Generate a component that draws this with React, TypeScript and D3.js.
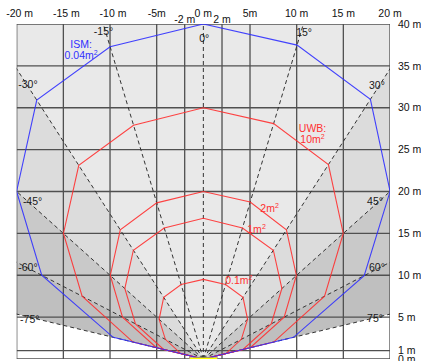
import React, { useEffect, useRef } from 'react';
import { select, scaleLinear, line } from 'd3';

// beam angles (deg from boresight) and detection range (m) per target
const angles = [-75, -60, -45, -30, -15, 0, 15, 30, 45, 60, 75];
const ismRange = [10, 20, 28.3, 35.7, 38.6, 40, 38.8, 35.8, 28.3, 19.9, 10];
const uwb10 = [7.8, 15, 21.2, 26.7, 28.9, 30, 29.1, 26.8, 21.2, 15, 7.8];
const uwb2 = [5.2, 10, 14.1, 17.8, 19.3, 20, 19.4, 17.8, 14.1, 10, 5.2];
const uwb1 = [4.4, 8.4, 11.9, 15, 16.2, 16.8, 16.2, 15, 11.9, 8.4, 4.4];
const uwb01 = [2.5, 4.7, 6.7, 8.5, 9.2, 9.5, 9.2, 8.5, 6.7, 4.7, 2.5];

const xGrid = [-20, -15, -10, -5, -2, 2, 5, 10, 15, 20];
const yGrid = [0, 1, 5, 10, 15, 20, 25, 30, 35, 40];
const topLabels = ['-20 m', '-15 m', '-10 m', '-5m', '-2 m', '0 m', '2 m', '5m', '10 m', '15 m', '20 m'];
const topValues = [-20, -15, -10, -5, -2, 0, 2, 5, 10, 15, 20];
const rightValues = [40, 35, 30, 25, 20, 15, 10, 5, 1, 0];

const dashAngles = [-75, -60, -45, -30, -15, 0, 15, 30, 45, 60, 75];
const angleLabels = ['-75°', '-60°', '-45°', '-30°', '-15°', '0°', '15°', '30°', '45°', '60°', '75°'];
// label anchor positions in metres (x, y)
const angleLabelPos: [number, number][] = [
  [-18.6, 4.3], [-18.8, 10.5], [-18.3, 18.4], [-18.8, 32.3], [-10.7, 38.7],
  [0.1, 37.9], [10.8, 38.6], [18.6, 32.2], [18.4, 18.4], [18.6, 10.5], [18.4, 4.4],
];

// shaded sectors: [fromDeg, toDeg, colour]
const sectorBands: [number, number, string][] = [
  [30, 45, '#dcdcdc'],
  [45, 60, '#c9c9c9'],
  [60, 75, '#bfbfbf'],
  [75, 90, '#ffffff'],
];

const W = 421;
const H = 361;

const App: React.FC = () => {
  const svgRef = useRef<SVGSVGElement | null>(null);

  useEffect(() => {
    if (!svgRef.current) return;
    const svg = select(svgRef.current);
    svg.selectAll('*').remove();

    const x = scaleLinear().domain([-20, 20]).range([16.7, 390]);
    const y = scaleLinear().domain([0, 40]).range([359, 24]);
    const font = 'Liberation Sans, Arial, sans-serif';

    svg.append('defs').append('clipPath').attr('id', 'plotClip')
      .append('rect')
      .attr('x', x(-20)).attr('y', y(40))
      .attr('width', x(20) - x(-20)).attr('height', y(0) - y(40));

    const plot = svg.append('g').attr('clip-path', 'url(#plotClip)');

    plot.append('rect')
      .attr('x', x(-20)).attr('y', y(40))
      .attr('width', x(20) - x(-20)).attr('height', y(0) - y(40))
      .attr('fill', '#e9e9e9');

    const polar = (deg: number, r: number): [number, number] => {
      const a = (deg * Math.PI) / 180;
      return [x(r * Math.sin(a)), y(r * Math.cos(a))];
    };

    // sector shading on both sides
    sectorBands.forEach(([a0, a1, col]) => {
      [1, -1].forEach((s) => {
        const pts = [polar(0, 0), polar(s * a0, 200), polar(s * a1, 200)];
        plot.append('path')
          .attr('d', 'M' + pts.map((p) => p.join(',')).join('L') + 'Z')
          .attr('fill', col);
      });
    });

    // grid
    xGrid.forEach((v) => {
      plot.append('line')
        .attr('x1', x(v)).attr('x2', x(v)).attr('y1', y(40)).attr('y2', y(0))
        .attr('stroke', '#505050').attr('stroke-width', 1.3);
    });
    yGrid.forEach((v) => {
      plot.append('line')
        .attr('x1', x(-20)).attr('x2', x(20)).attr('y1', y(v)).attr('y2', y(v))
        .attr('stroke', '#505050').attr('stroke-width', 1.3);
    });

    // dashed beam lines
    dashAngles.forEach((a) => {
      const [x1, y1] = polar(0, 0);
      const [x2, y2] = polar(a, 80);
      plot.append('line')
        .attr('x1', x1).attr('y1', y1).attr('x2', x2).attr('y2', y2)
        .attr('stroke', '#333').attr('stroke-width', 1)
        .attr('stroke-dasharray', '4,3');
    });

    // range polygons
    const path = line<[number, number]>();
    const drawPoly = (ranges: number[], colour: string) => {
      const pts: [number, number][] = [polar(0, 0)];
      angles.forEach((a, i) => pts.push(polar(a, ranges[i])));
      pts.push(polar(0, 0));
      plot.append('path')
        .attr('d', path(pts))
        .attr('fill', 'none')
        .attr('stroke', colour)
        .attr('stroke-width', 1.1)
        .attr('stroke-opacity', 0.9);
    };
    drawPoly(uwb10, '#ff3030');
    drawPoly(uwb2, '#ff3030');
    drawPoly(uwb1, '#ff3030');
    drawPoly(uwb01, '#ff3030');
    drawPoly(ismRange, '#3030ff');

    // sensor
    plot.append('rect')
      .attr('x', x(-1.5)).attr('y', y(0) - 1.5)
      .attr('width', x(1.5) - x(-1.5)).attr('height', 4)
      .attr('fill', '#ffff00').attr('stroke', '#888').attr('stroke-width', 0.5);

    // angle labels
    angleLabels.forEach((t, i) => {
      const [mx, my] = angleLabelPos[i];
      svg.append('text')
        .attr('x', x(mx)).attr('y', y(my))
        .attr('text-anchor', 'middle')
        .attr('font-family', font).attr('font-size', 10.5)
        .attr('fill', '#1a1a1a')
        .text(t);
    });

    // top axis labels
    topLabels.forEach((t, i) => {
      const v = topValues[i];
      const shift = v <= -10 ? 3 : 0;
      svg.append('text')
        .attr('x', x(v) + shift).attr('y', Math.abs(v) === 2 ? 23 : 17)
        .attr('text-anchor', 'middle')
        .attr('font-family', font).attr('font-size', 10.5)
        .attr('fill', '#111')
        .text(t);
    });

    // right axis labels
    rightValues.forEach((v) => {
      svg.append('text')
        .attr('x', 398).attr('y', y(v))
        .attr('dy', v === 1 ? '0.3em' : '0.35em')
        .attr('font-family', font).attr('font-size', 10.5)
        .attr('fill', '#111')
        .text(`${v} m`);
    });

    // series labels
    const label = (lines: string[], mx: number, my: number, colour: string) => {
      const txt = svg.append('text')
        .attr('x', x(mx)).attr('y', y(my))
        .attr('text-anchor', 'middle')
        .attr('font-family', font).attr('font-size', 10.5)
        .attr('fill', colour);
      lines.forEach((l, i) => {
        txt.append('tspan').attr('x', x(mx)).attr('dy', i === 0 ? 0 : 11).text(l);
      });
      txt.append('tspan').attr('dy', -4).attr('font-size', 7).text('2');
    };
    label(['ISM:', '0.04m'], -13.1, 37.1, '#3030ff');
    label(['UWB:', '10m'], 11.7, 27.1, '#ff3030');
    label(['2m'], 7.1, 17.5, '#ff3030');
    label(['1m'], 5.7, 15.1, '#ff3030');
    label(['0.1m'], 3.8, 8.9, '#ff3030');
  }, []);

  return (
    <svg
      ref={svgRef}
      width={W}
      height={H}
      style={{ position: 'absolute', left: 0, top: 0, background: '#fff' }}
    />
  );
};

export default App;
